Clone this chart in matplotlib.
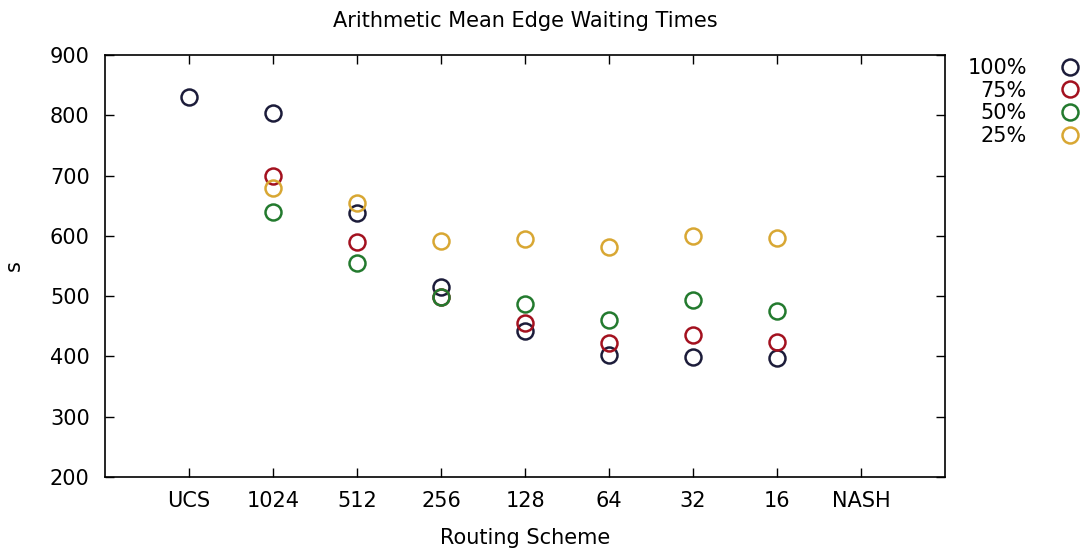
import numpy as np
import matplotlib.pyplot as plt

schemes = ["UCS", "1024", "512", "256", "128", "64", "32", "16", "NASH"]

# mean edge waiting time (s) per scheme, nan where no point
wait_100 = [830, 804, 638, 515, 442, 402, 399, 397, np.nan]
wait_75 = [np.nan, 699, 590, 499, 456, 422, 436, 424, np.nan]
wait_50 = [np.nan, 640, 555, 498, 487, 461, 493, 476, np.nan]
wait_25 = [np.nan, 680, 654, 592, 595, 581, 599, 596, np.nan]

series = [("100%", wait_100, "#1c1c3a"),
          ("75%", wait_75, "#a3111f"),
          ("50%", wait_50, "#237a2e"),
          ("25%", wait_25, "#d8a733")]

fs = 15
fig = plt.figure(figsize=(10.85, 5.51), dpi=100)
ax = fig.add_axes([105/1085, 1-477/551, 840/1085, 422/551])

x = np.arange(len(schemes))
for label, vals, col in series:
    ax.plot(x, vals, ls='none', marker='o', ms=11.5, mfc='none', mec=col,
            mew=1.8, label=label)

ax.set_xlim(-1, len(schemes))
ax.set_ylim(200, 900)
ax.set_xticks(x)
ax.set_xticklabels(schemes)
ax.set_yticks(range(200, 901, 100))
ax.tick_params(direction='in', length=6.5, width=1, top=True, right=True,
               labelsize=fs)
ax.tick_params(axis='x', pad=10)
ax.tick_params(axis='y', pad=11)
for sp in ax.spines.values():
    sp.set_linewidth(1.2)

ax.set_title("Arithmetic Mean Edge Waiting Times", fontsize=fs, pad=20)
ax.set_xlabel("Routing Scheme", fontsize=fs, labelpad=12)
ax.set_ylabel("s", fontsize=fs, labelpad=19)

ax.legend(loc='upper right', bbox_to_anchor=(1080/1085, 1-58/551),
          bbox_transform=fig.transFigure, frameon=False, markerfirst=False,
          handlelength=1.0, handletextpad=1.55, labelspacing=0.13, fontsize=fs,
          borderaxespad=0, borderpad=0)

plt.savefig("out.png", dpi=100)
